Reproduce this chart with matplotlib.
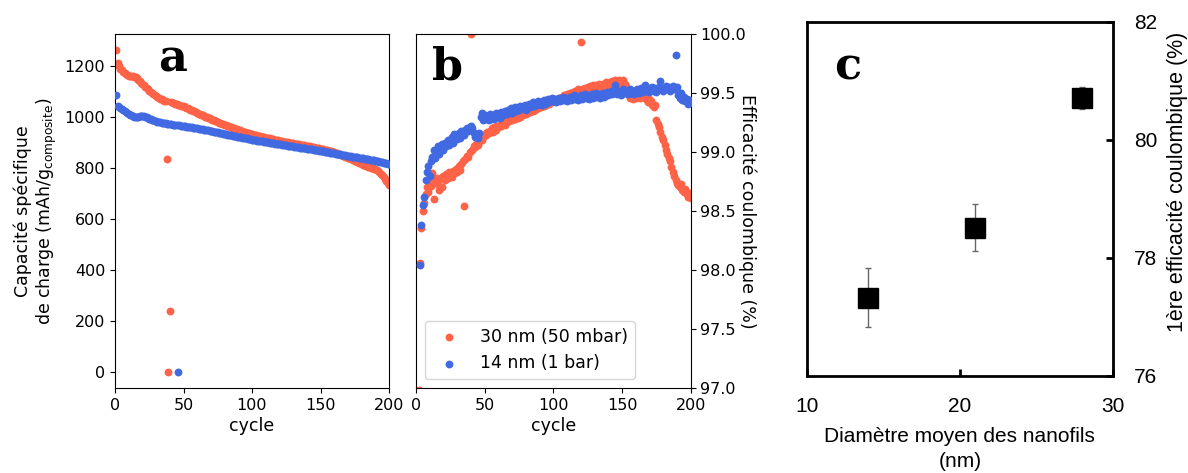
import numpy as np
import matplotlib
matplotlib.use("Agg")
import matplotlib.pyplot as plt

RED = "#FF6347"
BLUE = "#4169E1"

cycles = np.arange(1, 201)

# Panel a: specific charge capacity (mAh/g composite)
cap_30nm = [
    1263, 1212, 1200, 1190, 1183, 1177, 1172, 1168, 1165, 1162,
    1161, 1160, 1160, 1159, 1157, 1152, 1146, 1140, 1134, 1129,
    1124, 1119, 1114, 1109, 1104, 1099, 1095, 1091, 1087, 1083,
    1079, 1075, 1072, 1069, 1066, 1064, 1062, 835, 0, 240,
    1058, 1056, 1054, 1052, 1051, 1049, 1047, 1045, 1044, 1042,
    1039, 1037, 1034, 1032, 1029, 1027, 1024, 1022, 1019, 1017,
    1014, 1012, 1009, 1007, 1004, 1002, 999, 997, 995, 992,
    990, 988, 985, 983, 980, 978, 976, 974, 972, 970,
    968, 966, 964, 962, 960, 958, 956, 954, 952, 950,
    948, 946, 945, 943, 941, 939, 938, 936, 934, 932,
    931, 929, 928, 927, 926, 924, 923, 922, 921, 919,
    918, 917, 916, 915, 913, 912, 911, 910, 909, 908,
    906, 905, 904, 903, 902, 901, 900, 899, 898, 897,
    896, 895, 894, 893, 892, 891, 890, 889, 888, 887,
    886, 885, 884, 882, 881, 880, 879, 878, 877, 876,
    875, 874, 872, 871, 870, 868, 867, 865, 864, 862,
    860, 858, 856, 854, 852, 850, 848, 845, 843, 841,
    839, 837, 834, 832, 829, 827, 824, 821, 818, 815,
    813, 811, 809, 807, 805, 803, 802, 800, 798, 796,
    792, 788, 783, 778, 772, 765, 757, 750, 742, 733,
]
cap_14nm = [
    1085, 1044, 1038, 1034, 1030, 1026, 1023, 1020, 1017, 1014,
    1010, 1007, 1004, 1002, 1000, 999, 1000, 1003, 1005, 1005,
    1004, 1002, 999, 996, 993, 991, 989, 987, 985, 983,
    981, 980, 979, 978, 977, 976, 975, 974, 973, 972,
    971, 970, 969, 968, 967, 0, 967, 966, 966, 965,
    964, 963, 962, 961, 961, 960, 959, 958, 957, 956,
    955, 954, 953, 952, 951, 950, 949, 948, 946, 945,
    944, 943, 942, 941, 940, 939, 938, 936, 935, 934,
    932, 931, 930, 929, 928, 927, 926, 925, 923, 922,
    921, 920, 919, 918, 917, 916, 915, 914, 913, 912,
    911, 910, 909, 908, 907, 906, 905, 905, 904, 903,
    902, 901, 900, 899, 898, 897, 896, 895, 894, 893,
    893, 892, 891, 890, 889, 888, 887, 886, 885, 885,
    884, 883, 882, 881, 880, 879, 878, 878, 877, 876,
    875, 874, 873, 873, 872, 871, 870, 869, 868, 867,
    866, 865, 864, 864, 863, 862, 861, 860, 859, 858,
    857, 856, 855, 854, 853, 852, 851, 850, 849, 848,
    847, 846, 845, 845, 844, 843, 842, 841, 840, 839,
    838, 837, 836, 835, 834, 833, 832, 831, 830, 829,
    828, 826, 825, 824, 823, 821, 820, 819, 817, 815,
]

# Panel b: coulombic efficiency (%)
ce_30nm = [
    80.7, 96.98, 98.06, 98.36, 98.50, 98.57, 98.64, 98.70, 98.66, 98.74,
    98.71, 98.82, 98.60, 98.75, 98.78, 98.73, 98.68, 98.78, 98.70, 98.80,
    98.76, 98.81, 98.78, 98.83, 98.80, 98.79, 98.84, 98.82, 98.86, 98.83,
    98.88, 98.85, 98.90, 98.92, 98.54, 98.94, 98.97, 98.96, 99.00, 100.0,
    99.02, 99.05, 99.04, 99.07, 99.06, 99.09, 99.12, 99.10, 99.13, 99.15,
    99.14, 99.17, 99.16, 99.18, 99.20, 99.17, 99.21, 99.19, 99.22, 99.21,
    99.23, 99.22, 99.24, 99.26, 99.23, 99.25, 99.27, 99.26, 99.28, 99.27,
    99.29, 99.28, 99.30, 99.29, 99.31, 99.30, 99.32, 99.31, 99.33, 99.32,
    99.33, 99.35, 99.34, 99.36, 99.35, 99.37, 99.36, 99.38, 99.37, 99.39,
    99.38, 99.40, 99.39, 99.41, 99.40, 99.42, 99.41, 99.43, 99.42, 99.44,
    99.43, 99.45, 99.44, 99.46, 99.45, 99.47, 99.46, 99.48, 99.47, 99.49,
    99.48, 99.50, 99.49, 99.51, 99.50, 99.52, 99.51, 99.53, 99.52, 99.93,
    99.53, 99.52, 99.54, 99.53, 99.55, 99.54, 99.56, 99.55, 99.57, 99.56,
    99.57, 99.56, 99.58, 99.57, 99.55, 99.58, 99.57, 99.59, 99.58, 99.56,
    99.59, 99.58, 99.60, 99.59, 99.61, 99.60, 99.58, 99.61, 99.60, 99.59,
    99.61, 99.58, 99.55, 99.50, 99.48, 99.46, 99.47, 99.45, 99.48, 99.46,
    99.47, 99.49, 99.46, 99.48, 99.47, 99.49, 99.46, 99.44, 99.42, 99.45,
    99.43, 99.40, 99.38, 99.40, 99.27, 99.24, 99.21, 99.17, 99.13, 99.10,
    99.06, 99.02, 98.98, 98.95, 98.92, 98.87, 98.83, 98.80, 98.76, 98.74,
    98.72, 98.70, 98.73, 98.68, 98.66, 98.69, 98.64, 98.62, 98.65, 98.61,
]
ce_14nm = [
    77.3, 96.8, 98.04, 98.38, 98.55, 98.62, 98.76, 98.83, 98.88, 98.80,
    98.92, 98.96, 99.02, 98.95, 99.00, 99.05, 98.98, 99.04, 99.07, 99.02,
    99.08, 99.05, 99.10, 99.06, 99.10, 99.13, 99.08, 99.15, 99.14, 99.11,
    99.16, 99.12, 99.18, 99.17, 99.14, 99.19, 99.20, 99.18, 99.21, 99.22,
    99.20, 99.16, 99.13, 99.15, 99.12, 99.16, 99.30, 99.33, 99.27, 99.31,
    99.28, 99.30, 99.27, 99.32, 99.29, 99.31, 99.28, 99.33, 99.30, 99.32,
    99.29, 99.34, 99.31, 99.33, 99.35, 99.32, 99.36, 99.34, 99.37, 99.33,
    99.36, 99.38, 99.35, 99.37, 99.36, 99.39, 99.37, 99.38, 99.40, 99.36,
    99.39, 99.41, 99.38, 99.40, 99.42, 99.39, 99.41, 99.40, 99.43, 99.41,
    99.42, 99.40, 99.44, 99.41, 99.43, 99.45, 99.42, 99.44, 99.46, 99.43,
    99.45, 99.42, 99.44, 99.46, 99.43, 99.45, 99.47, 99.44, 99.46, 99.43,
    99.45, 99.47, 99.44, 99.46, 99.48, 99.45, 99.47, 99.44, 99.46, 99.48,
    99.45, 99.47, 99.49, 99.46, 99.48, 99.45, 99.47, 99.49, 99.46, 99.48,
    99.50, 99.47, 99.49, 99.46, 99.48, 99.50, 99.47, 99.49, 99.51, 99.48,
    99.50, 99.52, 99.49, 99.51, 99.57, 99.49, 99.52, 99.50, 99.48, 99.51,
    99.53, 99.50, 99.52, 99.49, 99.51, 99.53, 99.50, 99.52, 99.49, 99.51,
    99.53, 99.50, 99.52, 99.54, 99.51, 99.53, 99.57, 99.52, 99.54, 99.51,
    99.53, 99.55, 99.52, 99.54, 99.51, 99.53, 99.55, 99.60, 99.54, 99.52,
    99.54, 99.56, 99.53, 99.55, 99.52, 99.54, 99.56, 99.53, 99.82, 99.55,
    99.48, 99.46, 99.50, 99.44, 99.47, 99.43, 99.45, 99.41, 99.44, 99.42,
]

# Panel c: first-cycle coulombic efficiency vs nanowire diameter
diam_nm = [14, 21, 28]
first_ce = [77.32, 78.51, 80.71]
first_ce_err = [0.50, 0.40, 0.19]

label_30 = "30 nm (50 mbar)"
label_14 = "14 nm (1 bar)"

W, H = 1188, 473
fig = plt.figure(figsize=(W / 100, H / 100), dpi=100)

def rect(l, t, r, b):
    return [l / W, 1 - b / H, (r - l) / W, (b - t) / H]

TFS = 11.5   # tick labels
LFS = 12.5   # axis labels / legend
S = 32

# ---- panel a
axa = fig.add_axes(rect(115, 34, 389, 388))
axa.scatter(cycles, cap_30nm, s=S, color=RED, linewidths=0, label=label_30, zorder=2)
axa.scatter(cycles, cap_14nm, s=S, color=BLUE, linewidths=0, label=label_14, zorder=3)
axa.set_xlim(0, 200)
axa.set_ylim(-63, 1326)
axa.set_xticks([0, 50, 100, 150, 200])
axa.set_yticks([0, 200, 400, 600, 800, 1000, 1200])
axa.tick_params(labelsize=TFS)
axa.set_xlabel("cycle", fontsize=LFS, labelpad=3)
axa.set_ylabel("Capacité spécifique\nde charge (mAh/g$_{\\mathregular{composite}}$)",
               fontsize=LFS)

# ---- panel b
axb = fig.add_axes(rect(416, 34, 690.7, 388))
axb.scatter(cycles, ce_30nm, s=S, color=RED, linewidths=0, label=label_30, zorder=2)
axb.scatter(cycles, ce_14nm, s=S, color=BLUE, linewidths=0, label=label_14, zorder=3)
axb.set_xlim(0, 200)
axb.set_ylim(97.0, 100.0)
axb.set_xticks([0, 50, 100, 150, 200])
axb.set_yticks([97.0, 97.5, 98.0, 98.5, 99.0, 99.5, 100.0])
axb.yaxis.tick_right()
axb.yaxis.set_label_position("right")
axb.tick_params(labelsize=TFS)
axb.set_xlabel("cycle", fontsize=LFS, labelpad=3)
axb.set_ylabel("Efficacité coulombique (%)", fontsize=LFS, rotation=270)
axb.yaxis.set_label_coords((756 - 416) / (690.7 - 416), 0.5)
axb.legend(loc="lower left", fontsize=LFS, scatterpoints=1, borderaxespad=0.5)

# ---- panel c
axc = fig.add_axes(rect(806.7, 21.7, 1113, 375.7))
axc.errorbar(diam_nm, first_ce, yerr=first_ce_err, fmt="none", ecolor="#666666",
             elinewidth=1.0, capsize=2.5, capthick=1.0, zorder=2)
axc.plot(diam_nm, first_ce, linestyle="none", marker="s", markersize=14.4,
         color="black", zorder=3)
axc.set_xlim(10, 30)
axc.set_ylim(76, 82)
axc.set_xticks([10, 20, 30])
axc.set_yticks([76, 78, 80, 82])
axc.yaxis.tick_right()
for sp in axc.spines.values():
    sp.set_linewidth(2.0)
axc.tick_params(axis="both", direction="in", length=5, width=2, labelsize=15,
                labelfontfamily="Liberation Sans")
axc.tick_params(axis="x", pad=15)
axc.tick_params(axis="y", pad=15)
axc.set_xlabel("Diamètre moyen des nanofils\n(nm)", fontsize=15,
               family="Liberation Sans", labelpad=8, linespacing=1.45)
fig.text(1178 / W, 1 - 182 / H, "1ère efficacité coulombique (%)", rotation=90,
         fontsize=15.5, family="Liberation Sans", ha="center", va="center")

# ---- panel letters
letter_kw = dict(fontsize=32, fontweight="bold", family="DejaVu Serif")
fig.text(158 / W, 1 - 71 / H, "a", ha="left", va="baseline", **letter_kw)
fig.text(432 / W, 1 - 79 / H, "b", ha="left", va="baseline", **letter_kw)
fig.text(834 / W, 1 - 80 / H, "c", ha="left", va="baseline", **letter_kw)

fig.savefig("out.png", dpi=100)
